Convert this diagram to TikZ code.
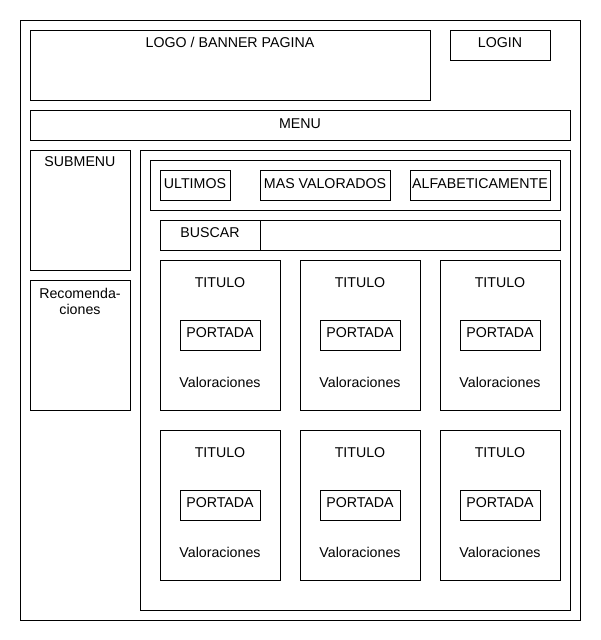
\documentclass[tikz,border=0pt]{standalone}
\usepackage{fontspec}
\setmainfont{Liberation Sans}
\begin{document}
\begin{tikzpicture}[x=1pt,y=-1pt,
  box/.style={draw=black,line width=0.9pt,inner sep=0pt,outer sep=0pt,anchor=north west},
  txt/.style={inner sep=0pt,anchor=base,font=\fontsize{14.2}{16}\selectfont}]
\useasboundingbox (0,0) rectangle (600,640);
\fill[white] (0,0) rectangle (600,640);
% outer frame
\node[box,minimum width=560pt,minimum height=600pt] (page) at (20,20) {};
% header
\node[box,minimum width=400pt,minimum height=70pt] (logo) at (30,30) {};
\node[txt] (logot) at (230,47) {LOGO / BANNER PAGINA};
\node[box,minimum width=100pt,minimum height=30pt] (login) at (450,30) {};
\node[txt] (logint) at (500,47) {LOGIN};
% menu
\node[box,minimum width=540pt,minimum height=30pt] (menu) at (30,110) {};
\node[txt] (menut) at (300,128) {MENU};
% left column
\node[box,minimum width=100pt,minimum height=120pt] (sub) at (30,150) {};
\node[txt] (subt) at (80,166) {SUBMENU};
\node[box,minimum width=100pt,minimum height=130pt] (rec) at (30,280) {};
\node[txt] (rect1) at (80,298) {Recomenda-};
\node[txt] (rect2) at (80,314) {ciones};
% main content
\node[box,minimum width=430pt,minimum height=460pt] (main) at (140,150) {};
\node[box,minimum width=410pt,minimum height=50pt] (tabs) at (150,160) {};
\node[box,minimum width=70pt,minimum height=30pt] (ult) at (160,170) {};
\node[txt] (ultt) at (195,188) {ULTIMOS};
\node[box,minimum width=130pt,minimum height=30pt] (mas) at (260,170) {};
\node[txt] (mast) at (325,188) {MAS VALORADOS};
\node[box,minimum width=140pt,minimum height=30pt] (alf) at (410,170) {};
\node[txt] (alft) at (480,188) {ALFABETICAMENTE};
% search
\node[box,minimum width=100pt,minimum height=30pt] (bus) at (160,220) {};
\node[txt] (bust) at (210,237) {BUSCAR};
\node[box,minimum width=300pt,minimum height=30pt] (busf) at (260,220) {};
% cards
\foreach \r/\y in {1/260,2/430}{
  \foreach \c/\x in {1/160,2/300,3/440}{
    \node[box,minimum width=120pt,minimum height=150pt] (card\r\c) at (\x,\y) {};
    \node[txt] (tit\r\c) at (\x+60,\y+27) {TITULO};
    \node[box,minimum width=80pt,minimum height=30pt] (port\r\c) at (\x+20,\y+60) {};
    \node[txt] (portt\r\c) at (\x+60,\y+77) {PORTADA};
    \node[txt] (val\r\c) at (\x+60,\y+127) {Valoraciones};
  }
}
\end{tikzpicture}
\end{document}
